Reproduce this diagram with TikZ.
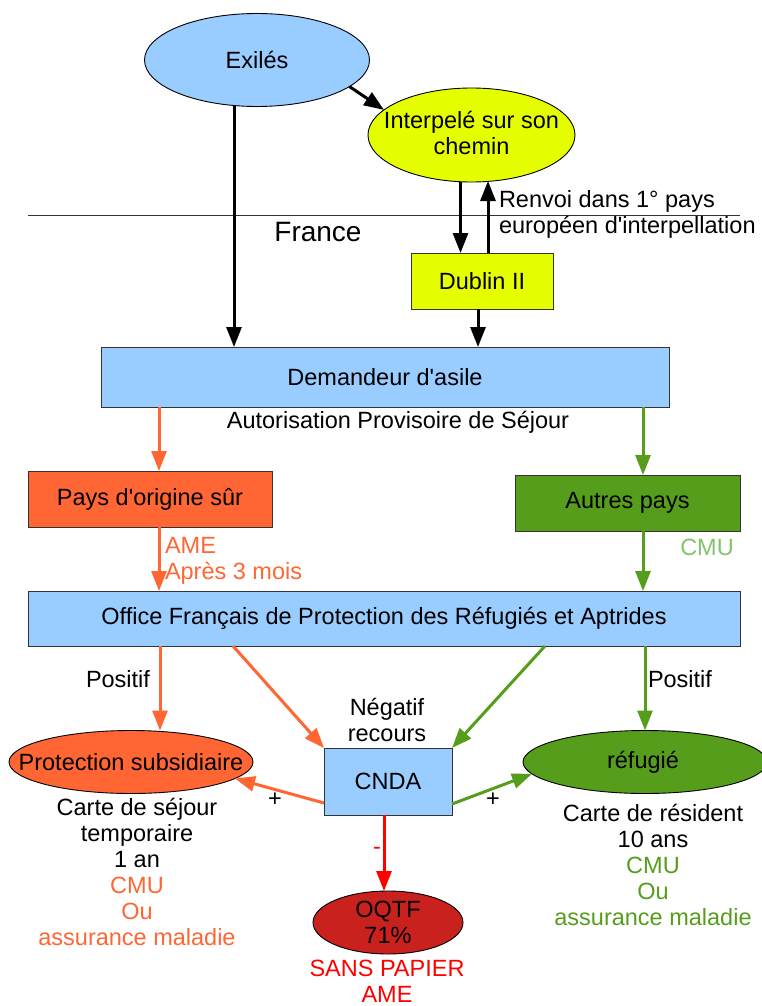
\documentclass[tikz,border=0pt]{standalone}
\usepackage{fontspec}
\setmainfont{Liberation Sans}
\usetikzlibrary{shapes.geometric,arrows.meta}
\definecolor{cblue}{HTML}{99CCFF}
\definecolor{cyellow}{HTML}{E6FF00}
\definecolor{corange}{HTML}{FF6633}
\definecolor{cgreen}{HTML}{579D1C}
\definecolor{cdred}{HTML}{C9211E}
\definecolor{cred}{HTML}{FF0000}
\definecolor{clgreen}{HTML}{83C36A}
\newcommand{\apos}{\textquotesingle}
\begin{document}
\begin{tikzpicture}[x=1pt,y=-1pt,
  every node/.style={font=\fontsize{23.5}{26}\selectfont, inner sep=0pt, outer sep=0pt},
  box/.style={rectangle, draw=black!80, line width=0.9pt},
  ell/.style={ellipse, draw=black, line width=0.9pt},
  txt/.style={align=center},
  arr/.style={line width=3pt, -{Triangle[length=20pt,width=15pt]}},
  blk/.style={arr, black},
  org/.style={arr, corange},
  grn/.style={arr, cgreen},
  rd/.style={arr, cred}]
\useasboundingbox (0,0) rectangle (761,1006);

% frontier line
\coordinate (fl) at (28,215);
\coordinate (fr) at (740,215);
\draw[line width=0.9pt, black!80] (fl) -- (fr);
\node (france) at (318,232) {\fontsize{28}{30}\selectfont France};

% nodes
\node[ell, fill=cblue, minimum width=225pt, minimum height=93pt] (ex) at (257,60) {};
\node (ext) at (ex) {Exilés};
\node[ell, fill=cyellow, minimum width=207pt, minimum height=94pt] (int) at (471.5,135) {};
\node[txt] (intt) at (471.5,133) {Interpelé sur son\\chemin};
\node[box, fill=cyellow, minimum width=142pt, minimum height=56pt] (dub) at (482,281) {Dublin II};
\node[box, fill=cblue, minimum width=568pt, minimum height=60pt] (dem) at (385,377) {Demandeur d\apos asile};
\node (aps) at (398,422) {Autorisation Provisoire de Séjour};
\node[box, fill=corange, minimum width=244pt, minimum height=56pt] (pays) at (150,499) {Pays d\apos origine sûr};
\node[box, fill=cgreen, minimum width=225pt, minimum height=56pt] (autres) at (627.5,503) {Autres pays};
\node[box, fill=cblue, minimum width=712pt, minimum height=55pt] (of) at (384,618.5) {Office Français de Protection des Réfugiés et Aptrides};
\node[box, fill=cblue, minimum width=128pt, minimum height=67pt] (cnda) at (388,781.5) {CNDA};
\node[ell, fill=corange, minimum width=244pt, minimum height=63pt] (prot) at (131,762) {};
\node (prott) at (prot) {Protection subsidiaire};
\node[ell, fill=cgreen, minimum width=244pt, minimum height=63pt] (ref) at (645,762) {};
\node (reft) at (643,762) {réfugié};
\node[ell, fill=cdred, minimum width=150pt, minimum height=63pt] (oqtf) at (388,922.5) {};
\node[txt] (oqtft) at (oqtf) {OQTF\\71\%};

% labels
\node[align=left, anchor=west] (renvoi) at (499,214) {Renvoi dans 1° pays\\européen d\apos interpellation};
\node[align=left, anchor=west, text=corange] (ame) at (165,561) {\fontsize{23.5}{28}\selectfont AME\\Après 3 mois};
\node[text=clgreen] (cmu1) at (707,547) {CMU};
\node (pos1) at (118,679) {Positif};
\node[anchor=west] (pos2) at (648,679) {Positif};
\node[txt] (neg) at (387,720) {Négatif\\recours};
\node (plus1) at (275,800) {+};
\node (plus2) at (493,800) {+};
\node[text=cred] (minus) at (377,851) {-};
\node[txt] (protinfo) at (137,872) {\fontsize{23.5}{25.6}\selectfont Carte de séjour\\temporaire\\1 an\\\textcolor{corange}{CMU}\\\textcolor{corange}{Ou}\\\textcolor{corange}{assurance maladie}};
\node[txt] (refinfo) at (653,864.5) {\fontsize{23.5}{26.2}\selectfont Carte de résident\\10 ans\\\textcolor{cgreen}{CMU}\\\textcolor{cgreen}{Ou}\\\textcolor{cgreen}{assurance maladie}};
\node[txt, text=cred] (sans) at (387,981) {\fontsize{23.5}{25}\selectfont SANS PAPIER\\AME};

% connectors
\draw[blk] (ex.-16) -- (int.164);
\path ([xshift=-23pt]ex.south) coordinate (exd);
\draw[blk] (exd) -- (exd |- dem.north);
\path ([xshift=-11pt]int.south) coordinate (intd);
\draw[blk] (intd) -- (intd |- dub.north);
\path ([xshift=6pt]dub.north) coordinate (dubu);
\draw[blk] (dubu) -- ([yshift=1pt]dubu |- int.south);
\path ([xshift=-4pt]dub.south) coordinate (dubd);
\draw[blk] (dubd) -- (dubd |- dem.north);

\path ([xshift=9pt]pays.north) coordinate (paysn);
\draw[org] (paysn |- dem.south) -- (paysn);
\path ([xshift=15.5pt]autres.north) coordinate (autn);
\draw[grn] (autn |- dem.south) -- (autn);
\path ([xshift=9pt]pays.south) coordinate (payss);
\draw[org] (payss) -- (payss |- of.north);
\path ([xshift=15.5pt]autres.south) coordinate (auts);
\draw[grn] (auts) -- (auts |- of.north);

\path ([xshift=29pt]prot.north) coordinate (protn);
\draw[org] (protn |- of.south) -- (protn);
\draw[org] ([xshift=-151pt]of.south) -- (cnda.north west);
\draw[grn] ([xshift=161pt]of.south) -- (cnda.north east);
\draw[grn] (ref.north |- of.south) -- (ref.north);
\draw[org] ([yshift=-21.5pt]cnda.west) -- (prot.-9);
\draw[grn] ([yshift=-22.5pt]cnda.east) -- (ref.186);
\path ([xshift=-4pt]cnda.south) coordinate (cndas);
\draw[rd] (cndas) -- (cndas |- oqtf.north);
\end{tikzpicture}
\end{document}
